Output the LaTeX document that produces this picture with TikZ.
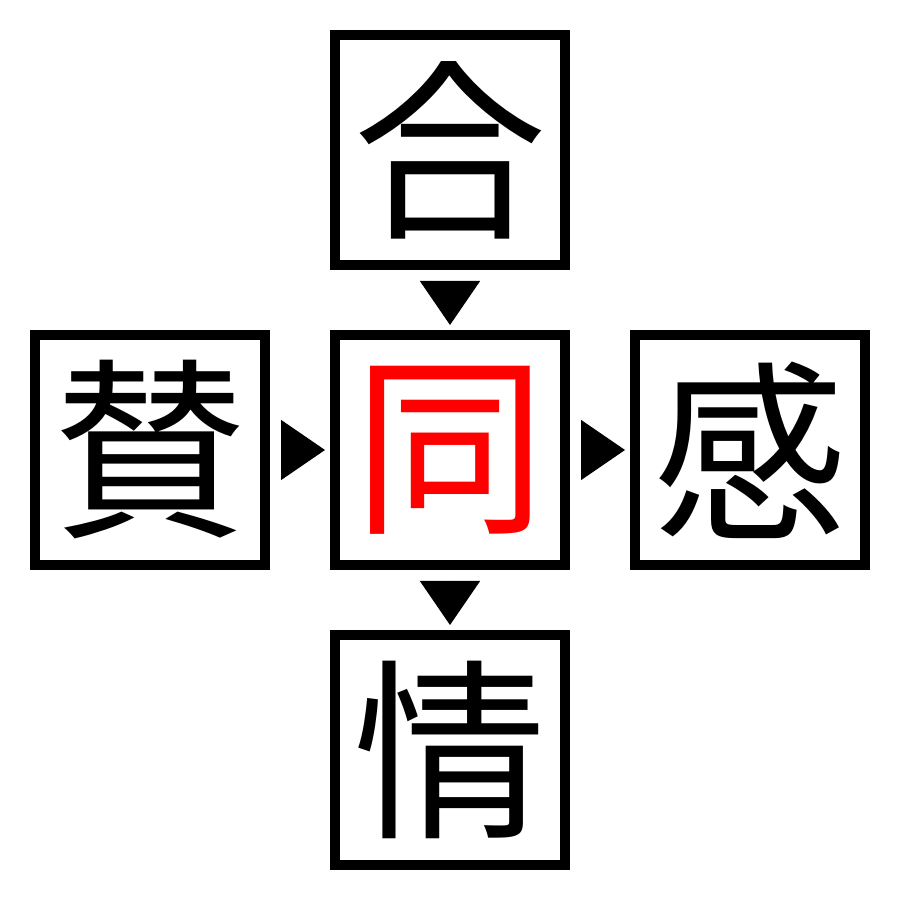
\documentclass[tikz,border=0pt]{standalone}
\usepackage{fontspec}
\newfontfamily\cjk{Noto Sans CJK JP}
\usetikzlibrary{positioning}
\usetikzlibrary{arrows.meta}

\begin{document}
\begin{tikzpicture}[node distance=0.6cm,
  kanji/.style={draw,line width=0.1cm,minimum size=2.3cm,inner sep=0pt,font=\cjk\fontsize{55}{55}\selectfont},
  link/.style={-{Triangle[length=0.44cm,width=0.6cm]},line width=0.4pt,shorten <=0.11cm,shorten >=0.05cm}]
\useasboundingbox (0,0) rectangle (9,9);
\node[kanji,text=red] (C) at (4.5,4.5) {同};
\node[kanji]          (T) [above=of C] {合};
\node[kanji]          (L) [left=of C]  {賛};
\node[kanji]          (R) [right=of C] {感};
\node[kanji]          (B) [below=of C] {情};

\draw[link] (T.south) -- (C.north);
\draw[link] (L.east)  -- (C.west);
\draw[link] (C.east)  -- (R.west);
\draw[link] (C.south) -- (B.north);
\end{tikzpicture}
\end{document}
